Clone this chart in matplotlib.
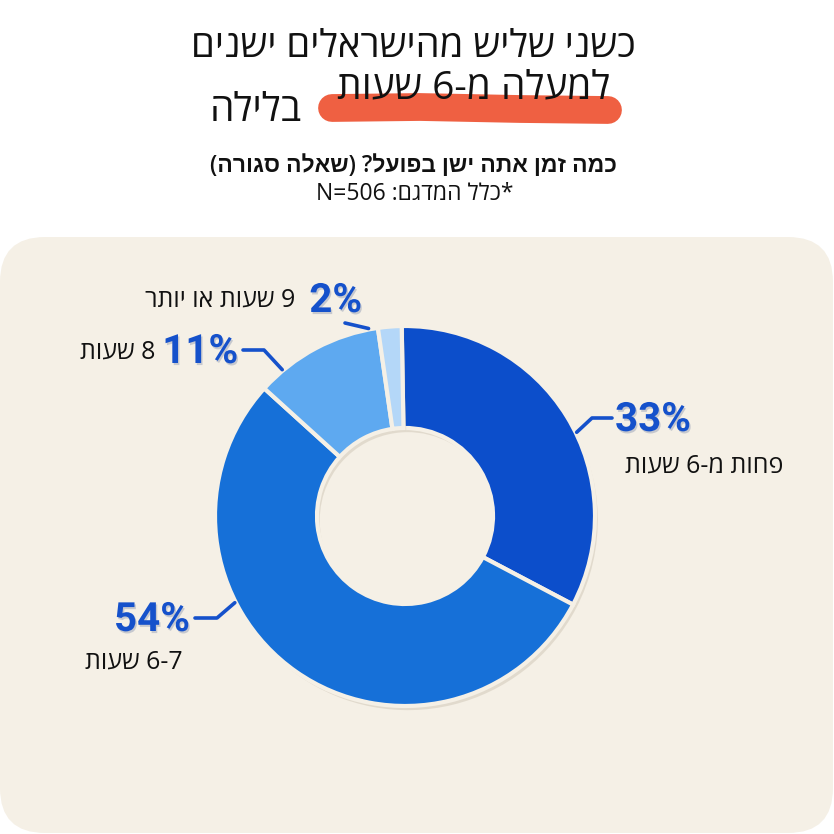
import re
import matplotlib
matplotlib.use("Agg")
import matplotlib.pyplot as plt
import matplotlib.patheffects as pe
from matplotlib.patches import FancyBboxPatch
import numpy as np

# data
categories = ["פחות מ-6 שעות", "6-7 שעות", "8 שעות", "9 שעות או יותר"]
values = [33, 54, 11, 2]
pct_labels = ["33%", "54%", "11%", "2%"]

title_l1 = "כשני שליש מהישראלים ישנים"
title_l2 = "למעלה מ-6 שעות"
title_l3 = "בלילה"
subtitle = "כמה זמן אתה ישן בפועל? (שאלה סגורה)"
sample_note = "*כלל המדגם: N=506"

colors = ["#0C4ECB", "#1670D8", "#5EA9F0", "#B4D7F8"]
label_blue = "#1551CB"
card_color = "#F5F0E6"
W = 834
HEB = ["Open Sans", "Liberation Sans", "DejaVu Sans"]


def rtl(s):
    # crude visual ordering for hebrew text (matplotlib has no bidi)
    toks = re.findall(r"[A-Za-z0-9]+(?:[-=.][A-Za-z0-9]+)*|[^A-Za-z0-9]+", s)
    out = []
    for t in reversed(toks):
        if re.match(r"[A-Za-z0-9]", t):
            out.append(t)
        else:
            out.append(t[::-1].translate(str.maketrans("()", ")(")))
    return "".join(out)


def Y(y):
    return W - y


fig = plt.figure(figsize=(8.34, 8.34), dpi=100)
fig.patch.set_facecolor("white")
ax = fig.add_axes([0, 0, 1, 1])

# card
ax.add_patch(FancyBboxPatch((0, Y(833)), 833, 596, boxstyle="round,pad=0,rounding_size=45",
                            fc=card_color, ec="none", zorder=0))

# donut
cx, cy, R = 405, 516, 190
wedges, _ = ax.pie(values, colors=colors, startangle=91, counterclock=False,
                   center=(cx, Y(cy)), radius=R,
                   wedgeprops=dict(width=R - 88, edgecolor=card_color, linewidth=3))
for w in wedges:
    w.set_zorder(2)
    w.set_path_effects([pe.SimplePatchShadow(offset=(2, -3), shadow_rgbFace="#8a7a60", alpha=0.18),
                        pe.Normal()])

# labels: (pct pos, pct ha, cat pos, cat ha, anchor angle, elbow x)
layout = [
    ((615, 420), "left", (783, 466), "right", 26, 592),
    ((190, 620), "right", (183, 662), "right", 207, 217),
    ((238, 352), "right", (155, 352), "right", 130, 264),
    ((362, 301), "right", (295, 300), "right", 101, None),
]
shadow = [pe.SimplePatchShadow(offset=(1, -1.5), shadow_rgbFace="#0a2a70", alpha=0.2), pe.Normal()]
for (pp, pha, cp, cha, ang, ex), cat, pl in zip(layout, categories, pct_labels):
    ax.text(pp[0], Y(pp[1]), pl, ha=pha, va="center", fontsize=29, fontweight="bold",
            family=["Roboto", "DejaVu Sans"], color=label_blue, path_effects=shadow, zorder=4)
    ax.text(cp[0], Y(cp[1]), rtl(cat), ha=cha, va="center", fontsize=18,
            family=HEB, color="#111111", zorder=4)
    a = np.deg2rad(ang)
    axp, ayp = cx + (R + 1) * np.cos(a), Y(cy) + (R + 1) * np.sin(a)
    if ex is None:
        xs = [345, axp]
        ys = [Y(323), ayp]
    else:
        lx = pp[0] - 3 if pha == "left" else pp[0] + 5
        xs = [lx, ex, axp]
        ys = [Y(pp[1]) + 2, Y(pp[1]) + 2, ayp]
    ax.plot(xs, ys, color=label_blue, lw=2.6, solid_capstyle="round", solid_joinstyle="round",
            zorder=3)

# title with highlighter stroke
ax.plot([332, 420, 520, 608], [Y(108), Y(107), Y(109), Y(110)], color="#EF6042", lw=20,
        solid_capstyle="round", zorder=1)
ax.text(413, Y(47), rtl(title_l1), ha="center", va="center", fontsize=27.5, family=HEB,
        color="#111111", zorder=5)
ax.text(610, Y(88), rtl(title_l2), ha="right", va="center", fontsize=28, family=HEB,
        color="#111111", zorder=5)
ax.text(302, Y(111), rtl(title_l3), ha="right", va="center", fontsize=28, family=HEB,
        color="#111111", zorder=5)
ax.text(413, Y(166), rtl(subtitle), ha="center", va="center", fontsize=16.5, fontweight="semibold",
        family=HEB, color="#111111")
ax.text(415, Y(194), rtl(sample_note), ha="center", va="center", fontsize=16.5, family=HEB,
        color="#111111")

ax.set_xlim(0, W)
ax.set_ylim(0, W)
ax.set_aspect("auto")
ax.axis("off")

fig.savefig("out.png", dpi=100, facecolor="white")
